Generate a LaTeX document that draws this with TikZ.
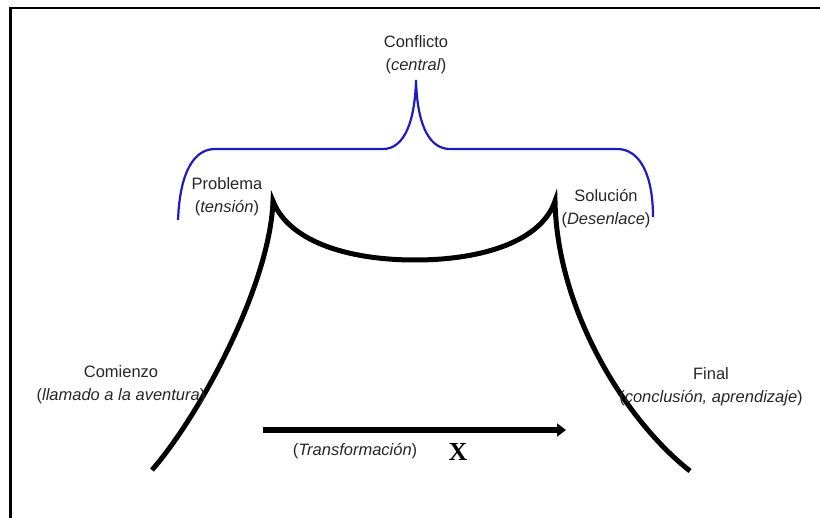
\documentclass[tikz,border=0pt]{standalone}
\usepackage{fontspec}
\setmainfont{Liberation Sans}
\newfontfamily\xserif{Liberation Serif}
\usetikzlibrary{arrows.meta}
\definecolor{bracec}{HTML}{1C1CC0}
\definecolor{labc}{HTML}{262626}
\newcommand{\pnote}[1]{(\textit{#1})}

\begin{document}
\begin{tikzpicture}[
    x=1pt, y=-1pt,
    font=\fontsize{16.5}{23}\selectfont,
    lab/.style={align=center, inner sep=0pt, text=labc, anchor=north},
    arc/.style={line width=5pt, draw=black, line join=miter, miter limit=40},
    brace/.style={line width=2.2pt, draw=bracec},
    flow/.style={-{Triangle[length=9pt, width=13pt]}, line width=5.5pt},
    frame/.style={line width=2.7pt},
  ]
  \useasboundingbox (0,0) rectangle (820,518);
  % ---- frame
  \draw[frame] (10.3,518) |- (820,8);
  % ---- plot line
  \coordinate (start) at (152,470);
  \coordinate (peakL) at (273,201);
  \coordinate (low) at (415,260);
  \coordinate (peakR) at (555,201);
  \coordinate (finish) at (690,471);
  \draw[arc] (start) .. controls (200,415) and (270,285) .. (peakL)
    .. controls (288,240) and (345,260) .. (low)
    .. controls (485,260) and (542,240) .. (peakR)
    .. controls (557,310) and (625,420) .. (finish);
  % ---- brace
  \coordinate (braceL) at (178,220);
  \coordinate (tip) at (416,80);
  \coordinate (braceR) at (653,217);
  \draw[brace] (braceL) .. controls (180,170) and (195,149) .. (215,149) -- (383,149)
    .. controls (405,149) and (415,120) .. (tip)
    .. controls (417,120) and (427,149) .. (450,149) -- (617,149)
    .. controls (640,149) and (653,175) .. (braceR);
  % ---- labels
  \node[lab] (conflicto) at (416,35) {Conflicto\\\pnote{central}};
  \node[lab] (problema) at (227,177) {Problema\\\pnote{tensión}};
  \node[lab] (solucion) at (606,189) {Solución\\\pnote{Desenlace}};
  \node[lab] (comienzo) at (121,365) {Comienzo\\\pnote{llamado a la aventura}};
  \node[lab] (final) at (711,367) {Final\\\pnote{conclusión, aprendizaje}};
  % ---- transformation arrow
  \coordinate (tfrom) at (263,430);
  \coordinate (tto) at (566,430);
  \draw[flow] (tfrom) -- (tto);
  \node[lab, anchor=center] (transf) at (355,451) {\pnote{Transformación}};
  \node[inner sep=0pt, font=\xserif\bfseries\fontsize{26}{26}\selectfont] (xmark) at (458,452) {X};
\end{tikzpicture}
\end{document}
